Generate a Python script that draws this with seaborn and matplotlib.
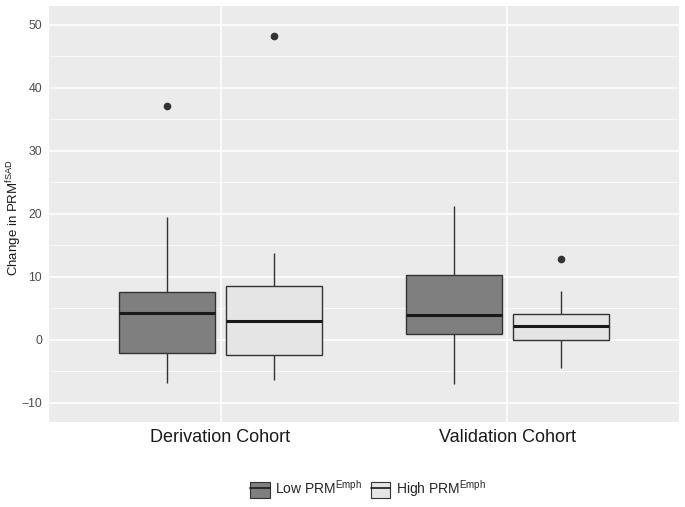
import matplotlib
matplotlib.use("Agg")
import matplotlib.pyplot as plt
from matplotlib.patches import Patch
from matplotlib.lines import Line2D
from matplotlib.legend_handler import HandlerTuple
import seaborn as sns
import pandas as pd
import numpy as np

# values (9 points per box: min, ., Q1, ., median, ., Q3, whisker, outlier)
cohorts = ["Derivation Cohort", "Validation Cohort"]
groups = ["Low", "High"]
deriv_low = [-6.9, -4.5, -2.1, 1.0, 4.23, 6.0, 7.57, 19.5, 37.1]
deriv_high = [-6.35, -4.0, -2.4, 0.5, 3.0, 6.0, 8.57, 13.8, 48.2]
valid_low = [-7.0, -3.0, 0.95, 2.5, 4.0, 7.0, 10.3, 15.0, 21.2]
valid_high = [-4.5, -2.0, -0.05, 1.0, 2.27, 3.0, 4.07, 7.83, 12.86]

rows = []
for cohort, group, vals in [(cohorts[0], "Low", deriv_low), (cohorts[0], "High", deriv_high),
                            (cohorts[1], "Low", valid_low), (cohorts[1], "High", valid_high)]:
    for v in vals:
        rows.append({"cohort": cohort, "group": group, "change": v})
df = pd.DataFrame(rows)

sns.set_style("white")
plt.rcParams["font.family"] = ["Liberation Sans", "DejaVu Sans"]
plt.rcParams["mathtext.fontset"] = "custom"
plt.rcParams["mathtext.rm"] = "Liberation Sans"
plt.rcParams["mathtext.it"] = "Liberation Sans:italic"

fills = {"Low": "#7F7F7F", "High": "#E5E5E5"}
edge = "#333333"

fig = plt.figure(figsize=(6.85, 5.07), dpi=100)
ax = fig.add_axes([49 / 685, (507 - 421.7) / 507, 630 / 685, 415.7 / 507])
ax.set_facecolor("#EBEBEB")

sns.boxplot(data=df, x="cohort", y="change", hue="group", order=cohorts, hue_order=groups,
            palette=fills, width=0.75, gap=0.11, linecolor=edge, linewidth=1.0,
            showcaps=False, whis=1.5, fliersize=4.5,
            flierprops=dict(marker="o", markerfacecolor=edge, markeredgecolor=edge),
            medianprops=dict(color="#1A1A1A", linewidth=2.2),
            legend=False, ax=ax)

ax.set_xlim(-0.598, 1.598)
ax.set_ylim(-12.97, 53.0)
ax.set_yticks(np.arange(-10, 51, 10))
ax.set_yticks(np.arange(-5, 51, 10), minor=True)
ax.grid(True, which="major", color="white", linewidth=1.1)
ax.grid(True, which="minor", axis="y", color="white", linewidth=0.55)
ax.set_axisbelow(True)
for s in ax.spines.values():
    s.set_visible(False)

ax.tick_params(axis="y", which="major", length=3, width=0.8, color=edge, labelsize=8.8, labelcolor="#4D4D4D", pad=2)
ax.tick_params(axis="y", which="minor", length=0)
ax.tick_params(axis="x", length=3, width=0.8, color=edge, labelsize=13, labelcolor="#1A1A1A", pad=2)

ax.set_xlabel("")
ax.set_ylabel(r"Change in PRM$^{\mathrm{fSAD}}$", fontsize=9.5, color="#1A1A1A")
ax.yaxis.set_label_coords((24 - 49) / 630, 0.49)

handles = []
for g in groups:
    box = Patch(facecolor=fills[g], edgecolor=edge, linewidth=0.8)
    mid = Line2D([], [], color="#1A1A1A", linewidth=1.2)
    handles.append((box, mid))
labels = [r"Low PRM$^{\mathrm{Emph}}$", r"High PRM$^{\mathrm{Emph}}$"]
fig.legend(handles, labels, handler_map={tuple: HandlerTuple(ndivide=1)},
           loc="center", bbox_to_anchor=(368 / 685, 1 - 489 / 507), ncol=2, frameon=False,
           fontsize=10, handlelength=1.4, handleheight=1.4, handletextpad=0.4, columnspacing=0.6)

fig.savefig("out.png", dpi=100, facecolor="white")
